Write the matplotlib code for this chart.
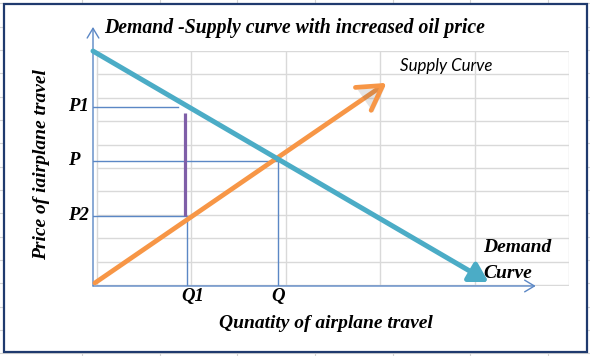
import matplotlib
matplotlib.use("Agg")
import matplotlib.pyplot as plt
import matplotlib.patheffects as pe
from matplotlib.patches import Rectangle
import numpy as np

# ---- data (grid units: quantity along x, price along y) ----
demand_q = [0.0, 4.19]
demand_p = [10.04, 0.17]
supply_q = [0.02, 3.11]
supply_p = [0.13, 8.68]
price_levels = [7.65, 5.36, 3.01]          # P1, P, P2
price_labels = ["P1", "P", "P2"]
price_line_end = [0.90, 1.96, 1.0]
quantity_levels = [1.0, 1.96]               # Q1, Q
quantity_labels = ["Q1", "Q"]
quantity_top = [3.01, 5.36]
wedge_q = 0.97
wedge_p = [7.39, 3.01]

W, H = 590, 356
fig = plt.figure(figsize=(W / 100, H / 100), dpi=100)

def fx(x):
    return x / W

def fy(y):
    return 1 - y / H

# background Excel sheet grid
bg = fig.add_axes([0, 0, 1, 1])
bg.set_xlim(0, W)
bg.set_ylim(H, 0)
bg.axis("off")
for x in np.arange(82, W, 77.7):
    bg.plot([x, x], [0, H], color="#d4d4d4", lw=0.8, zorder=0)
for y in np.arange(3.3, H, 23.33):
    bg.plot([0, W], [y, y], color="#d4d4d4", lw=0.8, zorder=0)
bg.add_patch(Rectangle((4, 4), 583, 348, facecolor="white",
                       edgecolor="#1f3a6e", lw=1.6, zorder=1))

# main diagram axes
x0, x1, ytop, ybot = 93, 569, 51, 286
ax = fig.add_axes([fx(x0), fy(ybot), (x1 - x0) / W, (ybot - ytop) / H])
ax.set_xlim(0, (x1 - x0) / 94.4)
ax.set_ylim(0, (ybot - ytop) / 23.4)
ax.patch.set_alpha(0)
for s in ax.spines.values():
    s.set_visible(False)
ax.set_xticks([])
ax.set_yticks([])

grid_c = "#d9d9d9"
for gx in np.arange(0.042, 5.05, 1.0):
    ax.plot([gx, gx], [0.04, 10.04], color=grid_c, lw=1.0, zorder=1)
for gy in np.arange(0.04, 10.05, 1.0):
    ax.plot([0.042, 5.042], [gy, gy], color=grid_c, lw=1.0, zorder=1)

axis_c = "#5b87c5"
ax.annotate("", xy=(0, 11.07), xytext=(0, 0),
            arrowprops=dict(arrowstyle="->,head_length=0.5,head_width=0.3",
                            color=axis_c, lw=1.0, shrinkA=0, shrinkB=0,
                            mutation_scale=14),
            annotation_clip=False, zorder=3)
ax.annotate("", xy=(4.69, 0.0), xytext=(0, 0),
            arrowprops=dict(arrowstyle="->,head_length=0.5,head_width=0.3",
                            color=axis_c, lw=1.0, shrinkA=0, shrinkB=0,
                            mutation_scale=14),
            annotation_clip=False, zorder=3)

# price / quantity guide lines
for p, xe in zip(price_levels, price_line_end):
    ax.plot([0, xe], [p, p], color=axis_c, lw=1.0, zorder=3)
for q, top in zip(quantity_levels, quantity_top):
    ax.plot([q, q], [0, top], color=axis_c, lw=1.0, zorder=3)

# purple wedge
ax.plot([wedge_q, wedge_q], wedge_p, color="#7f5fa8", lw=2.3, zorder=4,
        solid_capstyle="butt")

shadow = [pe.withSimplePatchShadow(offset=(1.5, -1.5), alpha=0.15)]
# supply
ax.annotate("", xy=(supply_q[1], supply_p[1]), xytext=(supply_q[0], supply_p[0]),
            arrowprops=dict(arrowstyle="->,head_length=0.85,head_width=0.5",
                            color="#f79646", lw=3.4, shrinkA=0, shrinkB=0,
                            mutation_scale=20, path_effects=shadow),
            annotation_clip=False, zorder=5)
# demand
ax.annotate("", xy=(demand_q[1], demand_p[1]), xytext=(demand_q[0], demand_p[0]),
            arrowprops=dict(arrowstyle="-|>,head_length=0.55,head_width=0.32",
                            color="#4bacc6", lw=3.6, shrinkA=0, shrinkB=0,
                            mutation_scale=20, path_effects=shadow),
            annotation_clip=False, zorder=6)

serif = dict(family="Liberation Serif", weight="bold", style="italic")
for p, lab in zip(price_levels, price_labels):
    ax.text(-0.265, p, lab, ha="left", va="center", fontsize=13.5, **serif)
for q, lab in zip(quantity_levels, quantity_labels):
    ax.text(q + 0.06 if lab == "Q1" else q, -0.45, lab, ha="center", va="center",
            fontsize=13.5, **serif)

fig.text(fx(295), fy(28), "Demand -Supply curve with increased oil price",
         ha="center", va="center", fontsize=14.2, **serif)
fig.text(fx(326), fy(323), "Qunatity of airplane travel",
         ha="center", va="center", fontsize=14, **serif)
fig.text(fx(42), fy(165), "Price of iairplane travel", rotation=90,
         ha="center", va="center", fontsize=14, **serif)
fig.text(fx(400), fy(66), "Supply Curve", ha="left", va="center",
         fontsize=12.2, family="Lato", style="italic")
fig.text(fx(483), fy(247), "Demand", ha="left", va="center", fontsize=14, **serif)
fig.text(fx(483), fy(273), "Curve", ha="left", va="center", fontsize=14, **serif)

fig.savefig("out.png", dpi=100)
